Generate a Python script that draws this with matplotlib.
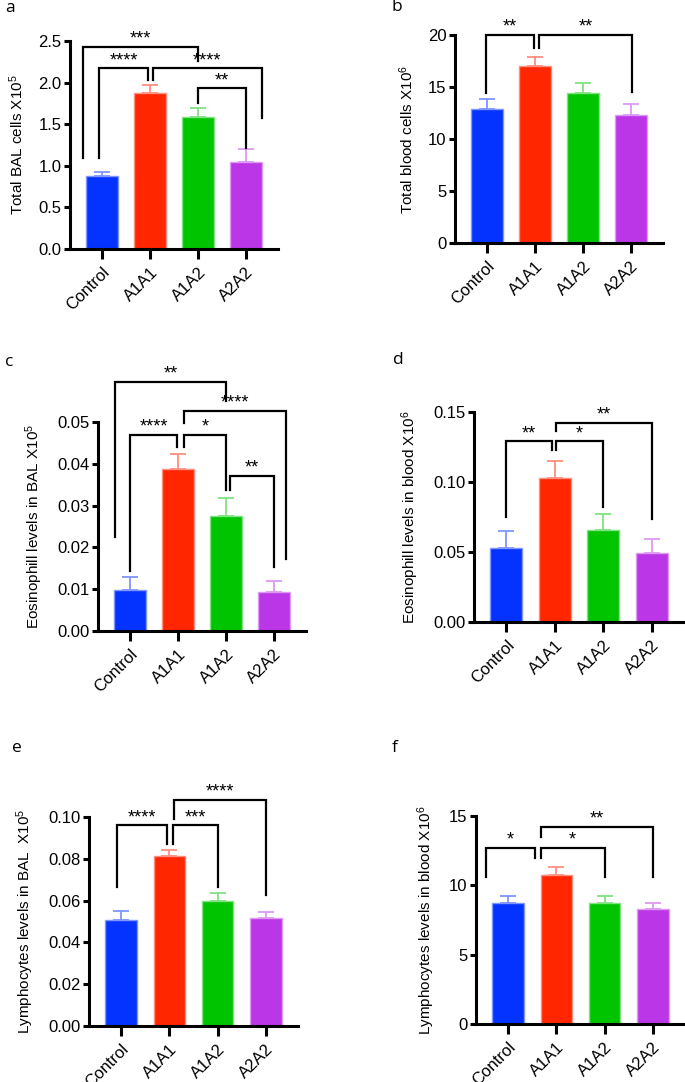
import numpy as np
import matplotlib
matplotlib.use('Agg')
import matplotlib.pyplot as plt

plt.rcParams['font.family'] = ['Liberation Sans', 'DejaVu Sans']
plt.rcParams['mathtext.fontset'] = 'custom'
plt.rcParams['mathtext.rm'] = 'Liberation Sans'
plt.rcParams['mathtext.default'] = 'rm'

groups = ['Control', 'A1A1', 'A1A2', 'A2A2']
colors = ['#0433ff', '#ff2600', '#00c400', '#bb36e6']
edges = ['#7f95ff', '#ff8f80', '#80e280', '#dd9af3']

# mean values and upper error (SEM)
bal_total = [0.88, 1.87, 1.59, 1.04]
bal_total_err = [0.05, 0.10, 0.10, 0.16]
blood_total = [12.9, 17.05, 14.4, 12.3]
blood_total_err = [0.9, 0.85, 0.95, 1.05]
bal_eos = [0.0099, 0.0388, 0.0274, 0.0094]
bal_eos_err = [0.0031, 0.0035, 0.0045, 0.0025]
blood_eos = [0.053, 0.103, 0.066, 0.049]
blood_eos_err = [0.012, 0.012, 0.011, 0.010]
bal_lym = [0.0509, 0.0812, 0.0598, 0.0518]
bal_lym_err = [0.0040, 0.0032, 0.0040, 0.0026]
blood_lym = [8.73, 10.72, 8.75, 8.29]
blood_lym_err = [0.50, 0.60, 0.50, 0.46]

ylabels = ['Total BAL cells X10$^5$', 'Total blood cells X10$^6$',
           'Eosinophill levels in BAL X10$^5$', 'Eosinophill levels in blood X10$^6$',
           'Lymphocytes levels in BAL  X10$^5$', 'Lymphocytes levels in blood X10$^6$']
yticks = [[0, 0.5, 1.0, 1.5, 2.0, 2.5], [0, 5, 10, 15, 20],
          [0, 0.01, 0.02, 0.03, 0.04, 0.05], [0, 0.05, 0.10, 0.15],
          [0, 0.02, 0.04, 0.06, 0.08, 0.10], [0, 5, 10, 15]]
yfmt = ['%.1f', '%d', '%.2f', '%.2f', '%.2f', '%d']

# significance brackets: (x left, x right, y, left leg end, right leg end, stars)
sig_a = [(-0.4, 2.0, 2.43, 1.09, 2.26, '***'),
         (-0.06, 0.96, 2.17, 1.09, 2.03, '****'),
         (1.06, 3.33, 2.17, 2.03, 1.57, '****'),
         (2.0, 3.0, 1.93, 1.75, 1.21, '**')]
sig_b = [(-0.03, 0.97, 20.0, 14.4, 18.75, '**'),
         (1.08, 3.03, 20.0, 18.75, 14.55, '**')]
sig_c = [(-0.31, 2.0, 0.0596, 0.0226, 0.055, '**'),
         (1.12, 3.25, 0.0526, 0.0498, 0.0172, '****'),
         (0.0, 0.98, 0.047, 0.0144, 0.044, '****'),
         (1.12, 2.0, 0.047, 0.044, 0.0338, '*'),
         (2.08, 3.0, 0.0372, 0.0338, 0.0154, '**')]
sig_d = [(0.0, 0.94, 0.129, 0.0752, 0.1225, '**'),
         (1.03, 2.0, 0.129, 0.1225, 0.0824, '*'),
         (1.03, 3.0, 0.1421, 0.1361, 0.0736, '**')]
sig_e = [(-0.08, 0.95, 0.096, 0.0665, 0.0872, '****'),
         (1.08, 2.0, 0.096, 0.0872, 0.0665, '***'),
         (1.1, 3.0, 0.1083, 0.0992, 0.0625, '****')]
sig_f = [(-0.47, 0.55, 12.72, 10.63, 11.95, '*'),
         (0.67, 2.0, 12.72, 11.95, 10.63, '*'),
         (0.67, 3.0, 14.23, 13.46, 10.63, '**')]

panels = [(bal_total, bal_total_err, sig_a, 'a'), (blood_total, blood_total_err, sig_b, 'b'),
          (bal_eos, bal_eos_err, sig_c, 'c'), (blood_eos, blood_eos_err, sig_d, 'd'),
          (bal_lym, bal_lym_err, sig_e, 'e'), (blood_lym, blood_lym_err, sig_f, 'f')]

W, H = 685, 1082
fig = plt.figure(figsize=(W / 100, H / 100), dpi=100)

# axes boxes in pixels: left, top, right, bottom
boxes = [(70, 41, 278, 249), (455, 35, 663, 243),
         (98, 422, 306, 631), (474, 412, 684, 622),
         (89, 817, 298, 1026), (476, 816, 685, 1024)]
letter_pos = [(5, 8), (392, 7), (5, 362), (393, 360), (12, 748), (392, 748)]

x = np.arange(len(groups))
for k, (vals, err, sig, letter) in enumerate(panels):
    l, t, r, b = boxes[k]
    ax = fig.add_axes([l / W, 1 - b / H, (r - l) / W, (b - t) / H])
    ax.bar(x, vals, width=0.66, color=colors, edgecolor=edges, linewidth=1, zorder=2)
    for i in range(4):
        ax.errorbar(x[i], vals[i], yerr=[[0], [err[i]]], fmt='none', ecolor=edges[i],
                    elinewidth=1.3, capsize=6, capthick=1.3, zorder=1)
    ax.set_xlim(-0.67, 3.67)
    ax.set_ylim(0, yticks[k][-1])
    ax.set_yticks(yticks[k])
    ax.set_yticklabels([yfmt[k] % v for v in yticks[k]])
    ax.set_xticks(x)
    ax.set_xticklabels(groups, rotation=45, ha='right', rotation_mode='anchor')
    ax.set_ylabel(ylabels[k], fontsize=11, labelpad=9)
    for s in ['top', 'right']:
        ax.spines[s].set_visible(False)
    for s in ['left', 'bottom']:
        ax.spines[s].set_linewidth(2.2)
    ax.tick_params(axis='x', length=7, width=2.2, labelsize=12, pad=4)
    ax.tick_params(axis='y', length=4, width=2.2, labelsize=12, pad=2)

    for x1, x2, yb, y1, y2, lab in sig:
        ax.plot([x1, x1, x2, x2], [y1, yb, yb, y2], color='black', lw=1.6,
                clip_on=False, solid_joinstyle='miter', zorder=3)
        ax.annotate(lab, ((x1 + x2) / 2, yb), xytext=(0, -0.5), textcoords='offset points',
                    ha='center', va='bottom', fontsize=13, annotation_clip=False)

    fig.text(letter_pos[k][0] / W, 1 - letter_pos[k][1] / H, letter, fontsize=12.5,
             family='Open Sans', ha='left', va='center')

fig.savefig('out.png', dpi=100)
